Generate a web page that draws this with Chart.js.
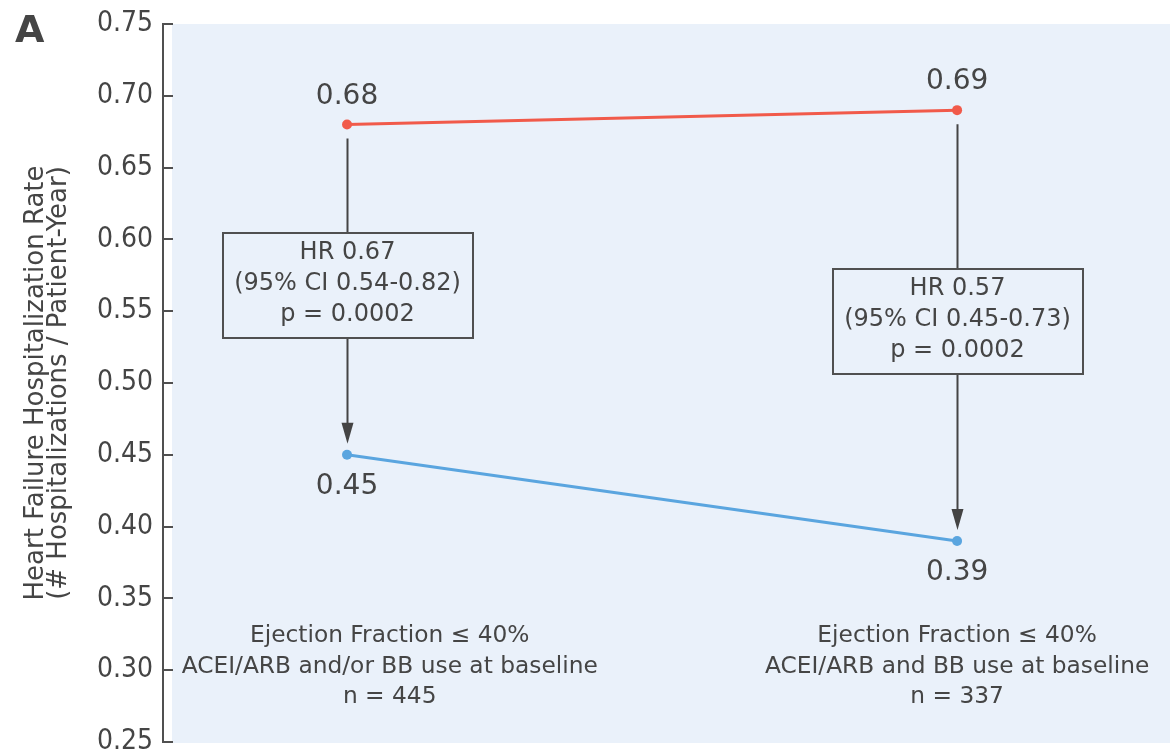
<!DOCTYPE html>
<html>
<head>
<meta charset="utf-8">
<script src="https://cdn.jsdelivr.net/npm/chart.js@4.4.0/dist/chart.umd.min.js"></script>
<style>
  html, body { margin: 0; padding: 0; background: #ffffff; }
  #wrap { width: 1170px; height: 751px; position: relative; }
</style>
</head>
<body>
<div id="wrap"><canvas id="c" width="1170" height="751"></canvas></div>
<script>
// ---- data ----
const groupPositions = [1, 2];
const groupCaptions = [
  ['Ejection Fraction \u2264 40%', 'ACEI/ARB and/or BB use at baseline', 'n = 445'],
  ['Ejection Fraction \u2264 40%', 'ACEI/ARB and BB use at baseline', 'n = 337']
];
const comparatorRate = [0.68, 0.69];
const treatedRate = [0.45, 0.39];
const hazardText = [
  ['HR 0.67', '(95% CI 0.54-0.82)', 'p = 0.0002'],
  ['HR 0.57', '(95% CI 0.45-0.73)', 'p = 0.0002']
];
const yTickValues = [0.25, 0.30, 0.35, 0.40, 0.45, 0.50, 0.55, 0.60, 0.65, 0.70, 0.75];
const yTitle = ['Heart Failure Hospitalization Rate', '(# Hospitalizations / Patient-Year)'];
const panelLetter = 'A';

// ---- styling ----
const TEXT = '#454545';
const AXIS = '#505050';
const PANEL_BG = '#eaf1fa';
const RED = '#f15a4a';
const BLUE = '#5aa5df';
const FONT = '"DejaVu Sans", "Open Sans", sans-serif';
const FONT_NARROW = '"DejaVu Sans Condensed", "DejaVu Sans", sans-serif';
const captionX = [1.07, 2.0];

const decorations = {
  id: 'decorations',
  beforeDraw(chart) {
    const { ctx, chartArea: a } = chart;
    const y = chart.scales.y;
    ctx.save();
    ctx.fillStyle = PANEL_BG;
    ctx.fillRect(a.left, a.top, chart.width - a.left, a.bottom - a.top + 1);
    // axis line with inward ticks
    const ax = a.left - 9;
    ctx.strokeStyle = AXIS;
    ctx.lineWidth = 2;
    ctx.beginPath();
    ctx.moveTo(ax, y.getPixelForValue(0.75) - 1);
    ctx.lineTo(ax, y.getPixelForValue(0.25) + 1);
    yTickValues.forEach(v => {
      const py = Math.round(y.getPixelForValue(v));
      ctx.moveTo(ax, py);
      ctx.lineTo(a.left + 1, py);
    });
    ctx.stroke();
    ctx.restore();
  },
  afterDatasetsDraw(chart) {
    const { ctx, chartArea: a } = chart;
    const xs = chart.scales.x;
    const top = chart.getDatasetMeta(0).data;
    const bot = chart.getDatasetMeta(1).data;
    ctx.save();

    groupPositions.forEach((g, i) => {
      const px = Math.round(top[i].x) + 0.5;
      const yTop = top[i].y, yBot = bot[i].y;
      const boxW = 250, boxH = 105;
      const cy = (yTop + yBot) / 2 - 4;
      const bTop = Math.round(cy - boxH / 2), bBot = bTop + boxH;
      const tipY = yBot - 11;
      const headLen = 21, headHalf = 6;

      // arrow shaft, broken by the box
      ctx.strokeStyle = '#444444';
      ctx.lineWidth = 2;
      ctx.beginPath();
      ctx.moveTo(px, yTop + 14);
      ctx.lineTo(px, bTop);
      ctx.moveTo(px, bBot);
      ctx.lineTo(px, tipY - headLen + 2);
      ctx.stroke();
      // arrow head
      ctx.fillStyle = '#444444';
      ctx.beginPath();
      ctx.moveTo(px - headHalf, tipY - headLen);
      ctx.lineTo(px + headHalf, tipY - headLen);
      ctx.lineTo(px, tipY);
      ctx.closePath();
      ctx.fill();

      // statistics box
      ctx.fillStyle = PANEL_BG;
      ctx.fillRect(px - boxW / 2, bTop, boxW, boxH);
      ctx.strokeStyle = AXIS;
      ctx.lineWidth = 2;
      ctx.strokeRect(Math.round(px - boxW / 2), bTop, boxW, boxH);
      ctx.fillStyle = TEXT;
      ctx.font = '24px ' + FONT;
      ctx.textAlign = 'center';
      ctx.textBaseline = 'alphabetic';
      hazardText[i].forEach((line, k) => {
        ctx.fillText(line, px, bTop + 26 + k * 31);
      });

      // value labels
      ctx.font = '28px ' + FONT;
      ctx.fillText(comparatorRate[i].toFixed(2), top[i].x, yTop - 21);
      ctx.fillText(treatedRate[i].toFixed(2), bot[i].x, yBot + 39);

      // group captions
      ctx.font = '23.3px ' + FONT;
      const cx = xs.getPixelForValue(captionX[i]);
      groupCaptions[i].forEach((line, k) => {
        ctx.fillText(line, cx, a.bottom - 100 + k * 30.5);
      });
    });

    // panel letter
    ctx.font = 'bold 38px ' + FONT;
    ctx.textAlign = 'left';
    ctx.fillText(panelLetter, 15, 42);
    ctx.restore();
  }
};

new Chart(document.getElementById('c'), {
  type: 'line',
  data: {
    datasets: [
      {
        data: groupPositions.map((x, i) => ({ x, y: comparatorRate[i] })),
        borderColor: RED, backgroundColor: RED,
        borderWidth: 3, pointRadius: 5, pointBorderWidth: 0, tension: 0
      },
      {
        data: groupPositions.map((x, i) => ({ x, y: treatedRate[i] })),
        borderColor: BLUE, backgroundColor: BLUE,
        borderWidth: 3, pointRadius: 5, pointBorderWidth: 0, tension: 0
      }
    ]
  },
  options: {
    responsive: false,
    animation: false,
    devicePixelRatio: 1,
    layout: { autoPadding: false, padding: { top: 24, bottom: 9, left: 0, right: 0 } },
    plugins: { legend: { display: false }, tooltip: { enabled: false } },
    scales: {
      x: {
        type: 'linear', min: 0.7131, max: 2.349, display: false,
        ticks: { display: false },
        afterFit: s => { s.paddingLeft = 0; s.paddingRight = 0; s.height = 0; }
      },
      y: {
        type: 'linear', min: 0.25, max: 0.75,
        afterBuildTicks: s => { s.ticks = yTickValues.map(v => ({ value: v })); },
        afterFit: s => { s.width = 172; s.paddingTop = 0; s.paddingBottom = 0; },
        grid: { display: false, drawTicks: false },
        border: { display: false },
        ticks: {
          padding: 19, color: TEXT,
          font: { family: FONT_NARROW, size: 28 },
          callback: v => Number(v).toFixed(2)
        },
        title: {
          display: true, text: yTitle, color: TEXT,
          font: { family: FONT, size: 26, lineHeight: 0.885 },
          padding: { top: 24.5, bottom: 0 }
        }
      }
    }
  },
  plugins: [decorations]
});
</script>
</body>
</html>
